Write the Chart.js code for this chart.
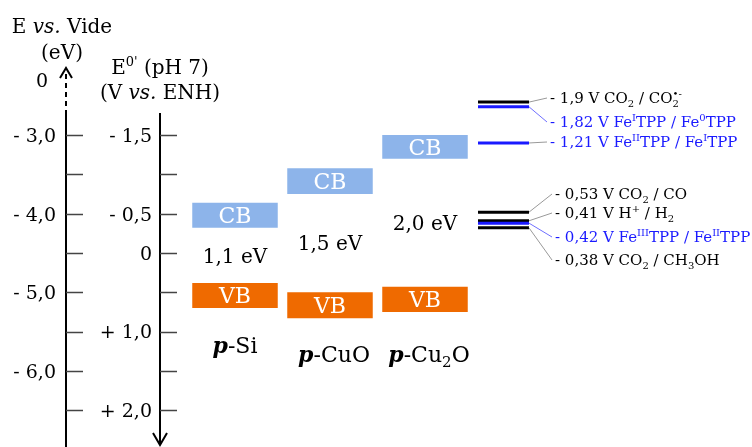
<!DOCTYPE html>
<html>
<head>
<meta charset="utf-8">
<script src="https://cdn.jsdelivr.net/npm/chart.js@4.4.1/dist/chart.umd.min.js"></script>
<style>
  html, body { margin: 0; padding: 0; background: #ffffff; }
  #wrap { width: 752px; height: 447px; position: relative; }
</style>
</head>
<body>
<div id="wrap"><canvas id="grafico"></canvas></div>
<script>
// materials and band edges (V vs ENH)
const materials = ["~p~-Si", "~p~-CuO", "~p~-Cu_{2}O"];
const cbTop = [-0.64, -1.08, -1.50];
const cbBottom = [-0.32, -0.75, -1.20];
const vbTop = [0.38, 0.50, 0.43];
const vbBottom = [0.70, 0.83, 0.75];
const gapLabels = ["1,1 eV", "1,5 eV", "2,0 eV"];

// redox couples
const redoxValues = [-1.92, -1.86, -1.40, -0.52, -0.41, -0.38, -0.32];
const redoxBlue = [false, true, true, false, false, true, false];
const redoxLabels = [
  "- 1,9 V CO_{2} / CO_{2}^{•-}",
  "- 1,82 V Fe^{I}TPP / Fe^{0}TPP",
  "- 1,21 V Fe^{II}TPP / Fe^{I}TPP",
  "- 0,53 V CO_{2} / CO",
  "- 0,41 V H^{+} / H_{2}",
  "- 0,42 V Fe^{III}TPP / Fe^{II}TPP",
  "- 0,38 V CO_{2} / CH_{3}OH"
];

// axis ticks
const tickValues = [-1.5, -1.0, -0.5, 0, 0.5, 1.0, 1.5, 2.0];
const evTicks = [-3.0, -4.0, -5.0, -6.0];
const vTicks = [-1.5, -0.5, 0, 1.0, 2.0];

const FONT = "'DejaVu Serif', serif";
const CB_COLOR = "#8db4ea";
const VB_COLOR = "#ef6a00";
const BLUE = "#1a1aff";

// layout of the text column on the right
const redoxLineX = [478, 529];
const redoxTextX = [550, 550, 550, 555, 555, 555, 555];
const redoxTextY = [98, 122, 142, 194, 213, 237, 260];

function parseRich(str) {
  const re = /_\{([^}]*)\}|\^\{([^}]*)\}|\*([^*]*)\*|~([^~]*)~|([^_^*~]+)/g;
  const out = [];
  let m;
  while ((m = re.exec(str)) !== null) {
    if (m[1] !== undefined) out.push({ t: m[1], s: "sub" });
    else if (m[2] !== undefined) out.push({ t: m[2], s: "sup" });
    else if (m[3] !== undefined) out.push({ t: m[3], i: true });
    else if (m[4] !== undefined) out.push({ t: m[4], i: true, b: true });
    else out.push({ t: m[5] });
  }
  return out;
}

function segFont(seg, size) {
  const sz = seg.s ? Math.round(size * 0.66) : size;
  return (seg.i ? "italic " : "") + (seg.b ? "bold " : "") + sz + "px " + FONT;
}

function layoutRich(ctx, segs, size) {
  let w = 0;
  const pos = [];
  for (let k = 0; k < segs.length; k++) {
    const seg = segs[k];
    ctx.font = segFont(seg, size);
    const sw = ctx.measureText(seg.t).width;
    const prev = segs[k - 1];
    if (seg.s === "sup" && prev && prev.s === "sub") {
      const start = pos[k - 1].x;
      pos.push({ x: start });
      w = Math.max(w, start + sw);
    } else {
      pos.push({ x: w });
      w += sw;
    }
  }
  return { w, pos };
}

function drawRich(ctx, str, x, y, size, color, align) {
  const segs = parseRich(str);
  const lay = layoutRich(ctx, segs, size);
  let x0 = x;
  if (align === "center") x0 = x - lay.w / 2;
  if (align === "right") x0 = x - lay.w;
  const base = y + size * 0.36;
  ctx.fillStyle = color;
  ctx.textAlign = "left";
  ctx.textBaseline = "alphabetic";
  segs.forEach((seg, k) => {
    ctx.font = segFont(seg, size);
    let by = base;
    if (seg.s === "sub") by = base + size * 0.24;
    if (seg.s === "sup") by = base - size * 0.42;
    ctx.fillText(seg.t, x0 + lay.pos[k].x, by);
  });
}

function fmtEv(v) {
  return (v < 0 ? "- " : "") + Math.abs(v).toFixed(1).replace(".", ",");
}
function fmtV(v) {
  if (v === 0) return "0";
  return (v < 0 ? "- " : "+ ") + Math.abs(v).toFixed(1).replace(".", ",");
}

const diagramPlugin = {
  id: "diagram",
  afterDatasetsDraw(chart) {
    const ctx = chart.ctx;
    const y = chart.scales.y;
    const leftX = 66;
    const rightX = 160;
    ctx.save();

    // axis lines
    ctx.strokeStyle = "#000";
    ctx.lineWidth = 2;
    ctx.beginPath();
    ctx.moveTo(leftX, 115);
    ctx.lineTo(leftX, chart.height);
    ctx.moveTo(rightX, 113);
    ctx.lineTo(rightX, 445);
    ctx.stroke();

    // dashed top of energy axis + arrow
    ctx.setLineDash([5, 4]);
    ctx.beginPath();
    ctx.moveTo(leftX, 115);
    ctx.lineTo(leftX, 72);
    ctx.stroke();
    ctx.setLineDash([]);
    ctx.beginPath();
    ctx.moveTo(leftX - 6, 78);
    ctx.lineTo(leftX, 68);
    ctx.lineTo(leftX + 6, 78);
    ctx.stroke();

    // arrow at bottom of potential axis
    ctx.beginPath();
    ctx.moveTo(rightX - 7, 433);
    ctx.lineTo(rightX, 445);
    ctx.lineTo(rightX + 7, 433);
    ctx.stroke();

    // tick marks
    ctx.strokeStyle = "#444";
    ctx.lineWidth = 1.5;
    tickValues.forEach(v => {
      const py = Math.round(y.getPixelForValue(v)) + 0.5;
      ctx.beginPath();
      ctx.moveTo(leftX, py);
      ctx.lineTo(leftX + 17, py);
      ctx.moveTo(rightX, py);
      ctx.lineTo(rightX + 17, py);
      ctx.stroke();
    });

    // tick labels
    evTicks.forEach(e => {
      drawRich(ctx, fmtEv(e), 56, y.getPixelForValue(-4.5 - e), 19, "#000", "right");
    });
    vTicks.forEach(v => {
      drawRich(ctx, fmtV(v), 152, y.getPixelForValue(v), 19, "#000", "right");
    });

    // axis titles
    drawRich(ctx, "E *vs.* Vide", 62, 26, 20, "#000", "center");
    drawRich(ctx, "(eV)", 62, 52, 20, "#000", "center");
    drawRich(ctx, "0", 42, 80, 19, "#000", "center");
    drawRich(ctx, "E^{0'} (pH 7)", 160, 67, 20, "#000", "center");
    drawRich(ctx, "(V *vs.* ENH)", 160, 92, 20, "#000", "center");

    // band labels, gaps, material names
    const cbMeta = chart.getDatasetMeta(0).data;
    const vbMeta = chart.getDatasetMeta(1).data;
    materials.forEach((name, i) => {
      const cb = cbMeta[i];
      const vb = vbMeta[i];
      drawRich(ctx, "CB", cb.x, (cb.y + cb.base) / 2, 22, "#fff", "center");
      drawRich(ctx, "VB", vb.x, (vb.y + vb.base) / 2, 22, "#fff", "center");
      const gapY = y.getPixelForValue((cbBottom[i] + vbTop[i]) / 2);
      drawRich(ctx, gapLabels[i], cb.x, gapY, 20, "#000", "center");
      const nameY = i === 0 ? 345 : 354;
      drawRich(ctx, name, cb.x + (i === 0 ? 0 : 4), nameY, 22, "#000", "center");
    });

    // redox levels and labels
    redoxValues.forEach((v, i) => {
      const py = y.getPixelForValue(v);
      const col = redoxBlue[i] ? BLUE : "#000";
      ctx.strokeStyle = col;
      ctx.lineWidth = 3;
      ctx.beginPath();
      ctx.moveTo(redoxLineX[0], py);
      ctx.lineTo(redoxLineX[1], py);
      ctx.stroke();
      ctx.strokeStyle = redoxBlue[i] && i !== 2 ? "#6f6fff" : "#999";
      ctx.lineWidth = 1;
      ctx.beginPath();
      ctx.moveTo(redoxLineX[1], py);
      ctx.lineTo(redoxTextX[i] - 3, redoxTextY[i]);
      ctx.stroke();
      drawRich(ctx, redoxLabels[i], redoxTextX[i], redoxTextY[i], 15, col, "left");
    });

    ctx.restore();
  }
};

new Chart(document.getElementById("grafico"), {
  type: "bar",
  data: {
    labels: materials,
    datasets: [
      {
        label: "CB",
        data: cbTop.map((t, i) => [t, cbBottom[i]]),
        backgroundColor: CB_COLOR,
        borderWidth: 0,
        borderSkipped: false,
      },
      {
        label: "VB",
        data: vbTop.map((t, i) => [t, vbBottom[i]]),
        backgroundColor: VB_COLOR,
        borderWidth: 0,
        borderSkipped: false,
      }
    ]
  },
  options: {
    responsive: true,
    maintainAspectRatio: false,
    animation: false,
    grouped: false,
    barPercentage: 0.9,
    categoryPercentage: 1.0,
    layout: { padding: { left: 187.5, right: 279.5, top: 0, bottom: 0 } },
    plugins: {
      legend: { display: false },
      tooltip: { enabled: false }
    },
    scales: {
      x: { display: false, offset: true },
      y: { display: false, reverse: true, min: -3.219, max: 2.468 }
    }
  },
  plugins: [diagramPlugin]
});
</script>
</body>
</html>
